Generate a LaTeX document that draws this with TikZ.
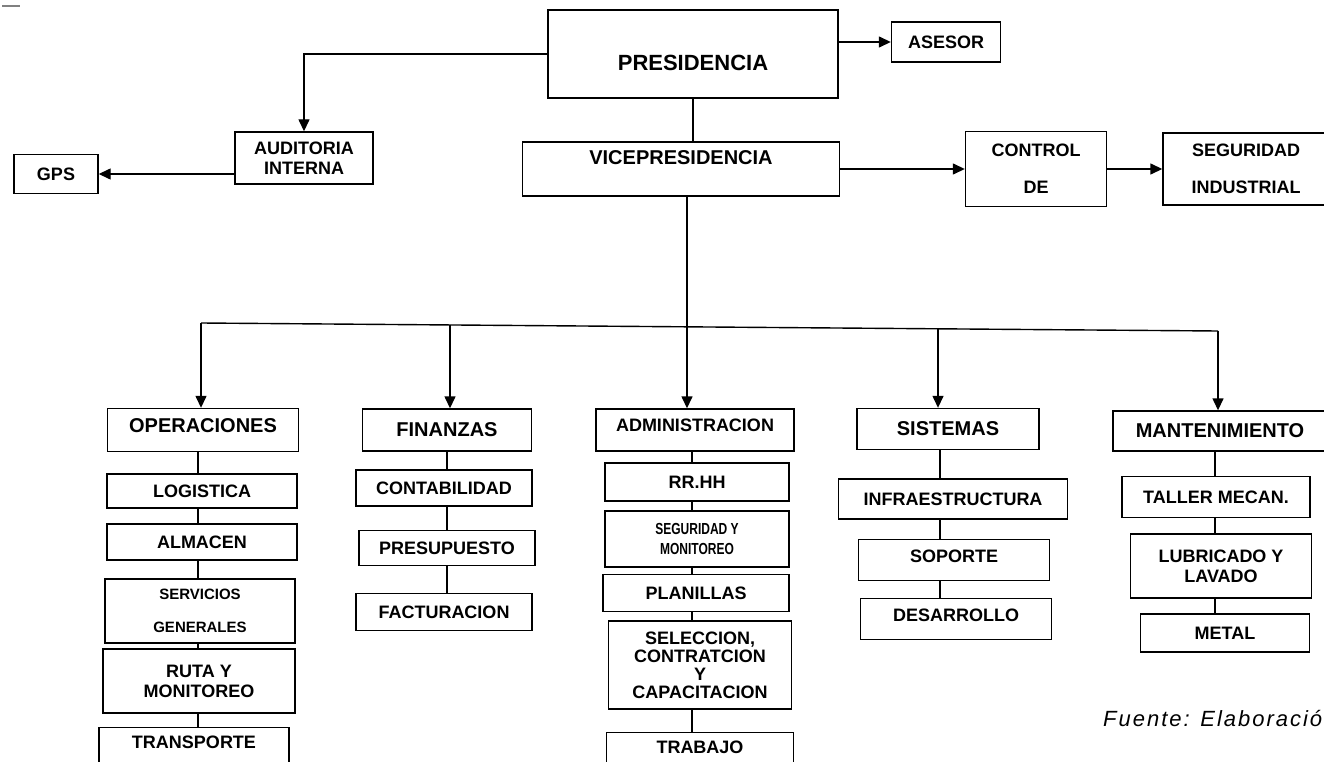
\documentclass[tikz,border=0pt]{standalone}
\usepackage{fontspec,graphicx}
\setmainfont{Liberation Sans}
\usetikzlibrary{arrows.meta}

\begin{document}
\begin{tikzpicture}[x=1pt,y=-1pt,>=Latex]
\tikzset{
  unit/.style={draw,line width=1.4pt,fill=white,inner sep=0pt,align=center,font=\bfseries\fontsize{18}{20}\selectfont},
  area/.style={unit,font=\bfseries\fontsize{20}{22}\selectfont},
  minor/.style={unit,font=\bfseries\fontsize{15}{17}\selectfont},
  dims/.style 2 args={minimum width=#1,minimum height=#2},
  link/.style={line width=1.4pt},
  flow/.style={line width=1.4pt,-{Triangle[length=12pt,width=11pt]}}
}
\useasboundingbox (0,0) rectangle (1324,762);
\clip (0,0) rectangle (1324,762);
\draw[gray,line width=1.2pt] (2,6) -- (20,6);

\node[unit,dims={290pt}{88pt},font=\bfseries\fontsize{22}{24}\selectfont,text height=40pt,text depth=6pt] (pres) at (693,54) {PRESIDENCIA};
\node[unit,dims={109pt}{40pt}] (ases) at (946,42) {ASESOR};
\node[unit,dims={138pt}{52pt}] (audit) at (304,158) {AUDITORIA\\INTERNA};
\node[unit,dims={84pt}{39pt}] (gps) at (56,174) {GPS};
\node[area,dims={317pt}{54pt},text height=14pt,text depth=22pt] (vice) at (681,169) {VICEPRESIDENCIA};
\node[unit,dims={141pt}{75pt}] (ctrl) at (1036,169) {CONTROL\\[17pt]DE};
\node[unit,dims={166pt}{72pt}] (segind) at (1246,169) {SEGURIDAD\\[17pt]INDUSTRIAL};

\draw[flow] (pres.east |- ases) -- (ases.west);
\draw[flow] (pres.west) -| (audit.north);
\draw[flow] (audit.west |- gps) -- (gps.east);
\draw[link] (pres.south) -- (pres.south |- vice.north);
\draw[flow] (vice.east) -- (ctrl.west);
\draw[flow] (ctrl.east) -- (segind.west);

\node[area,dims={191pt}{43pt},text height=14pt,text depth=10pt] (oper) at (203,430) {OPERACIONES};
\node[unit,dims={190pt}{34pt}] (log) at (202,491) {LOGISTICA};
\node[unit,dims={190pt}{36pt}] (alm) at (202,542) {ALMACEN};
\node[minor,dims={190pt}{64pt}] (serv) at (200,611) {SERVICIOS\\[16pt]GENERALES};
\node[unit,dims={192pt}{64pt}] (ruta) at (199,681) {RUTA Y\\MONITOREO};
\node[unit,dims={190pt}{47pt},text height=13pt,text depth=18pt] (trans) at (194,751) {TRANSPORTE};

\node[area,dims={169pt}{42pt}] (fin) at (447,430) {FINANZAS};
\node[unit,dims={176pt}{36pt}] (cont) at (444,488) {CONTABILIDAD};
\node[unit,dims={176pt}{35pt}] (presup) at (447,548) {PRESUPUESTO};
\node[unit,dims={176pt}{37pt}] (fact) at (444,612) {FACTURACION};

\node[unit,dims={198pt}{42pt},text height=13pt,text depth=10pt] (admin) at (695,430) {ADMINISTRACION};
\node[unit,dims={184pt}{38pt}] (rrhh) at (697,482) {RR.HH};
\node[minor,dims={184pt}{56pt},font=\bfseries\fontsize{16}{20}\selectfont] (segmon) at (697,539) {\scalebox{0.75}[1]{SEGURIDAD Y}\\\scalebox{0.75}[1]{MONITOREO}};
\node[unit,dims={186pt}{37pt}] (plan) at (696,593) {PLANILLAS};
\node[unit,dims={183pt}{88pt},font=\bfseries\fontsize{18}{18}\selectfont] (selec) at (700,665) {SELECCION,\\CONTRATCION\\Y\\CAPACITACION};
\node[unit,dims={187pt}{47pt},text height=13pt,text depth=18pt] (trab) at (700,756) {TRABAJO};

\node[area,dims={182pt}{41pt}] (sist) at (948,429) {SISTEMAS};
\node[unit,dims={229pt}{40pt}] (infra) at (953,499) {INFRAESTRUCTURA};
\node[unit,dims={191pt}{41pt},text height=13pt,text depth=8pt] (sop) at (954,560) {SOPORTE};
\node[unit,dims={191pt}{41pt},text height=13pt,text depth=8pt] (desa) at (956,619) {DESARROLLO};

\node[area,dims={214pt}{40pt}] (mant) at (1220,431) {MANTENIMIENTO};
\node[unit,dims={188pt}{41pt}] (taller) at (1216,497) {TALLER MECAN.};
\node[unit,dims={181pt}{64pt}] (lub) at (1221,566) {LUBRICADO Y\\LAVADO};
\node[unit,dims={169pt}{38pt}] (metal) at (1225,633) {METAL};

\coordinate (b1) at (201,323);
\coordinate (b2) at (450,325);
\coordinate (b3) at (687,327);
\coordinate (b4) at (938,329);
\coordinate (b5) at (1218,331);
\draw[link] (b1) -- (b5);
\draw[flow] (vice.south -| b3) -- (b3 |- admin.north);
\draw[flow] (b1) -- (b1 |- oper.north);
\draw[flow] (b2) -- (b2 |- fin.north);
\draw[flow] (b4) -- (b4 |- sist.north);
\draw[flow] (b5) -- (b5 |- mant.north);

\coordinate (k1) at (198,0);
\coordinate (k2) at (447,0);
\coordinate (k3) at (692,0);
\coordinate (k4) at (940,0);
\coordinate (k5) at (1215,0);
\foreach \a/\b in {oper/log,log/alm,alm/serv,serv/ruta,ruta/trans}
  \draw[link] (\a.south -| k1) -- (\b.north -| k1);
\foreach \a/\b in {fin/cont,cont/presup,presup/fact}
  \draw[link] (\a.south -| k2) -- (\b.north -| k2);
\foreach \a/\b in {admin/rrhh,rrhh/segmon,segmon/plan,plan/selec,selec/trab}
  \draw[link] (\a.south -| k3) -- (\b.north -| k3);
\foreach \a/\b in {sist/infra,infra/sop,sop/desa}
  \draw[link] (\a.south -| k4) -- (\b.north -| k4);
\foreach \a/\b in {mant/taller,taller/lub,lub/metal}
  \draw[link] (\a.south -| k5) -- (\b.north -| k5);

\node[anchor=west,font=\itshape\fontsize{22}{24}\selectfont\addfontfeature{LetterSpace=9},inner sep=0pt] (fuente) at (1103,718) {Fuente: Elaboración};
\end{tikzpicture}
\end{document}
